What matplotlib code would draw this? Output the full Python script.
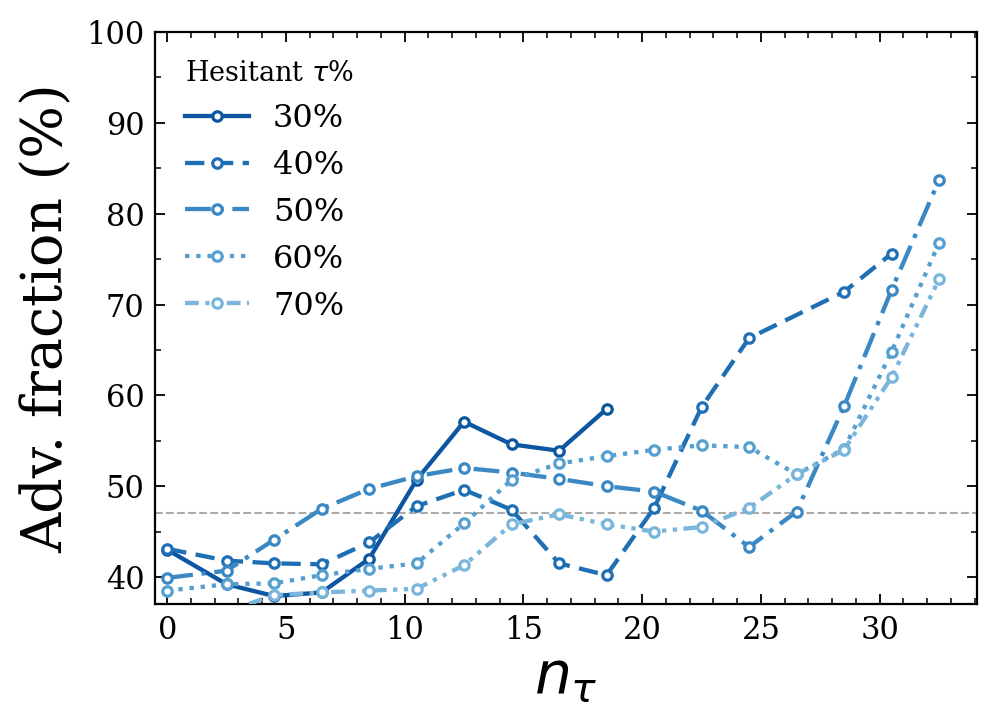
import numpy as np
import matplotlib
matplotlib.use("Agg")
import matplotlib.pyplot as plt
from matplotlib.ticker import MultipleLocator

# ---- data ----
labels = ["30%", "40%", "50%", "60%", "70%"]

x30 = [0, 2.5, 4.5, 6.5, 8.5, 10.5, 12.5, 14.5, 16.5, 18.5]
y30 = [43.0, 39.2, 37.9, 38.3, 42.0, 50.7, 57.1, 54.6, 53.9, 58.5]

x40 = [0, 2.5, 4.5, 6.5, 8.5, 10.5, 12.5, 14.5, 16.5, 18.5, 20.5, 22.5, 24.5, 28.5, 30.5]
y40 = [43.1, 41.8, 41.5, 41.4, 43.8, 47.8, 49.6, 47.4, 41.5, 40.2, 47.6, 58.7, 66.3, 71.4, 75.6]

x50 = [0, 2.5, 4.5, 6.5, 8.5, 10.5, 12.5, 14.5, 16.5, 18.5, 20.5, 22.5, 24.5, 26.5, 28.5, 30.5, 32.5]
y50 = [39.9, 40.7, 44.1, 47.5, 49.7, 51.1, 52.0, 51.5, 50.8, 50.0, 49.4, 47.3, 43.3, 47.2, 58.8, 71.6, 83.7]

x60 = [0, 2.5, 4.5, 6.5, 8.5, 10.5, 12.5, 14.5, 16.5, 18.5, 20.5, 22.5, 24.5, 26.5, 28.5, 30.5, 32.5]
y60 = [38.5, 39.2, 39.3, 40.2, 40.9, 41.5, 45.9, 50.7, 52.5, 53.3, 54.0, 54.5, 54.3, 51.3, 54.1, 64.8, 76.8]

x70 = [0, 2.5, 4.5, 6.5, 8.5, 10.5, 12.5, 14.5, 16.5, 18.5, 20.5, 22.5, 24.5, 26.5, 28.5, 30.5, 32.5]
y70 = [35.5, 36.2, 38.0, 38.3, 38.5, 38.7, 41.3, 45.8, 46.9, 45.8, 45.0, 45.5, 47.6, 51.3, 54.0, 62.0, 72.8]

baseline = 47.0

xs = [x30, x40, x50, x60, x70]
ys = [y30, y40, y50, y60, y70]
colors = ["#0d56a1", "#1f6fb4", "#3a88c4", "#55a0d0", "#7ab6db"]
styles = ["-", (0, (4.5, 2.2)), (0, (6, 2, 1, 2)), (0, (1, 1.6)),
          (0, (3.2, 1.5, 1, 1.5, 1, 1.5))]

plt.rcParams["font.family"] = "DejaVu Serif"
plt.rcParams["mathtext.fontset"] = "dejavusans"

fig = plt.figure(figsize=(9.96, 7.28), dpi=100)
ax = fig.add_axes([0.156, 0.170, 0.825, 0.786])

ax.axhline(baseline, color="#aaaaaa", ls="--", lw=1.5, zorder=1)

for x, y, c, s, lab in zip(xs, ys, colors, styles, labels):
    ax.plot(x, y, color=c, ls=s, lw=3.1, marker="o", ms=6.8, mfc="white",
            mec=c, mew=2.3, label=lab, zorder=3)

ax.set_xlim(-0.5, 34.1)
ax.set_ylim(37, 100)
ax.xaxis.set_major_locator(MultipleLocator(5))
ax.xaxis.set_minor_locator(MultipleLocator(1))
ax.yaxis.set_major_locator(MultipleLocator(10))
ax.yaxis.set_minor_locator(MultipleLocator(5))
ax.tick_params(which="both", direction="in", top=True, right=True, labelsize=22, pad=8)
ax.tick_params(which="major", length=7, width=1.3)
ax.tick_params(which="minor", length=4, width=1.1)
for sp in ax.spines.values():
    sp.set_linewidth(1.6)

ax.set_xlabel(r"$n_\tau$", fontsize=42, labelpad=2)
ax.set_ylabel("Adv. fraction (%)", fontsize=40, labelpad=8)

leg = ax.legend(title=r"Hesitant $\tau$%", loc="upper left", frameon=False,
                bbox_to_anchor=(0.005, 0.995),
                fontsize=23, title_fontsize=19.5, handlelength=2.0,
                borderaxespad=0.4, labelspacing=0.5, handletextpad=0.75)
leg._legend_box.align = "left"
leg._legend_box.sep = 11

fig.savefig("out.png", dpi=100)
